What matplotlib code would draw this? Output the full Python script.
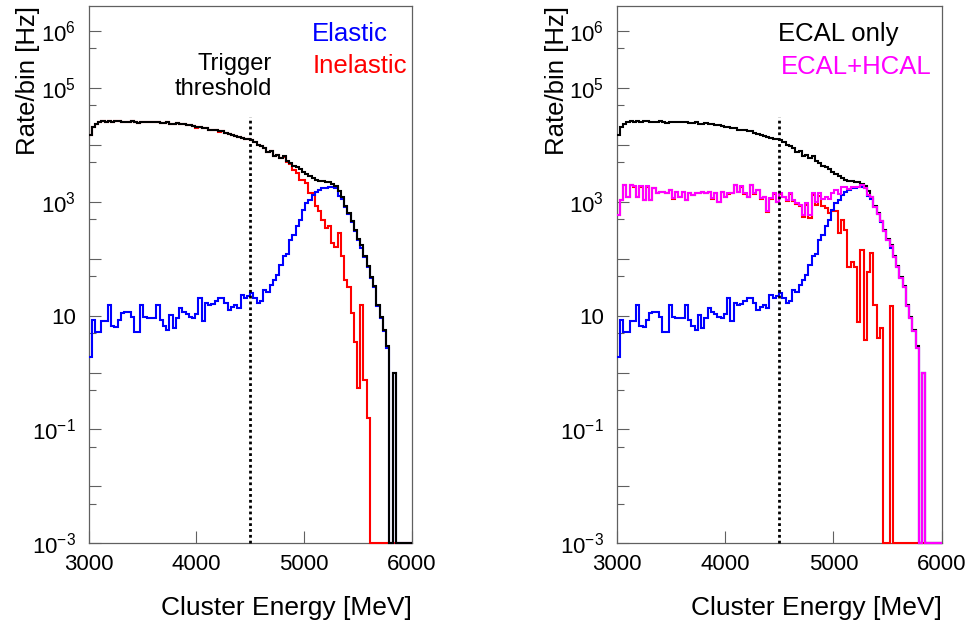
import numpy as np
import matplotlib
matplotlib.use("Agg")
import matplotlib.pyplot as plt
from matplotlib.ticker import FixedLocator, FixedFormatter, NullFormatter

plt.rcParams['font.family'] = ['Liberation Sans', 'DejaVu Sans']
plt.rcParams['mathtext.fontset'] = 'custom'
plt.rcParams['mathtext.rm'] = 'Liberation Sans'
plt.rcParams['mathtext.it'] = 'Liberation Sans:italic'
plt.rcParams['mathtext.bf'] = 'Liberation Sans:bold'

# ---------------- data (rates per 30 MeV bin, Hz) ----------------
E_MIN, E_MAX, BIN_WIDTH = 3000, 6000, 30
THRESHOLD_E = 4500
THRESHOLD_LINE_TOP = 3.1e4

x_ticks = [3000, 4000, 5000, 6000]
x_tick_labels = ["3000", "4000", "5000", "6000"]
y_major = [1e-3, 1e-2, 1e-1, 1, 10, 100, 1e3, 1e4, 1e5, 1e6]
y_major_labels = [r"$10^{-3}$", "", r"$10^{-1}$", "", "10", "", r"$10^{3}$", "", r"$10^{5}$", r"$10^{6}$"]
y_minor = [5e-3, 5e-2, 5e-1, 5, 50, 500, 5e3, 5e4, 5e5]

ecal_only = [
    15000, 20400, 23400, 25100, 26300, 25700, 26300, 25700, 26300, 26300,
    25100, 25700, 25700, 26300, 25100, 24500, 25100, 25100, 25700, 25100,
    25700, 25100, 24000, 24500, 25100, 23400, 23400, 24000, 22900, 22900,
    22400, 22400, 21400, 20400, 20900, 19500, 20000, 18600, 18600, 18200,
    17400, 17400, 16200, 15800, 14800, 14500, 13500, 13200, 12900, 12600,
    12000, 11200, 10000, 9550, 8910, 7410, 7760, 6460, 6760, 5890,
    6310, 5130, 4790, 4270, 4070, 3720, 3390, 3020, 2820, 2630,
    2450, 2340, 2290, 2190, 2200, 2040, 1910, 1540, 1210, 851,
    631, 468, 324, 224, 172, 110, 74, 48, 33, 15.5,
    9.5, 5.6, 2.9, 0, 1.0, 0, 0, 0, 0, 0]

elastic = [
    1.9, 8.3, 5.2, 5.2, 7.9, 7.9, 15.5, 6.5, 6.2, 8.3,
    11.0, 11.7, 11.7, 9.5, 5.2, 5.2, 15.5, 9.5, 8.9, 8.9,
    8.9, 15.5, 8.3, 6.5, 5.6, 10.2, 6.0, 8.9, 13.5, 11.7,
    10.5, 9.3, 8.9, 10.5, 20.4, 7.9, 16.6, 15.1, 15.8, 17.8,
    20.4, 20.4, 16.6, 12.6, 14.1, 15.5, 13.5, 22.9, 20.4, 22.4,
    24.5, 20.0, 16.6, 17.8, 28.2, 26.3, 34.7, 42.7, 51.3, 77.6,
    110, 123, 214, 263, 372, 479, 724, 955, 1070, 1320,
    1510, 1620, 1740, 1780, 1820, 1820, 1740, 1250, 1100, 794,
    603, 447, 309, 214, 155, 105, 71, 46, 32, 14.8,
    9.1, 5.4, 2.75, 0, 1.0, 0, 0, 0, 0, 0]

inelastic = [
    15000, 20400, 23400, 25100, 26300, 25700, 26300, 25700, 26300, 26300,
    25100, 25700, 25700, 26300, 25100, 24500, 25100, 25100, 25700, 25100,
    25700, 25100, 24000, 24500, 25100, 23400, 23400, 24000, 22900, 22900,
    22400, 22400, 21400, 20000, 20900, 19500, 20000, 18600, 18600, 18200,
    17000, 17400, 16200, 15800, 14800, 14500, 13500, 13200, 12900, 12600,
    12000, 11200, 10000, 9550, 8910, 7410, 7760, 6460, 6760, 5890,
    6200, 5010, 4650, 3630, 3160, 2400, 2400, 2140, 1410, 1410,
    832, 676, 479, 347, 380, 186, 162, 288, 110, 41.7,
    32.4, 11.0, 3.47, 0.525, 15.5, 0.74, 0.158, 0, 0, 0,
    0, 0, 0, 0, 0, 0, 0, 0, 0, 0]

ecal_hcal = [
    589, 1070, 2000, 1230, 2000, 1860, 1230, 1860, 1070, 1860,
    1070, 1740, 1410, 1510, 1510, 1410, 1620, 1150, 1510, 1230,
    1510, 1070, 1410, 1320, 1410, 1410, 1510, 1410, 1510, 1150,
    1410, 1000, 1510, 1230, 1410, 1410, 2000, 1510, 1860, 1410,
    1230, 2000, 1410, 1620, 1150, 1230, 676, 1150, 1410, 1000,
    1410, 1230, 1070, 1410, 1070, 933, 891, 589, 933, 589,
    1410, 1000, 1410, 1100, 1230, 1110, 1400, 1630, 1350, 1800,
    1830, 1690, 1830, 1850, 1830, 2000, 1745, 1310, 1200, 810,
    607, 453, 309, 214, 170, 105, 71, 46, 32, 14.8,
    9.1, 5.4, 2.75, 0, 1.0, 0, 0, 0, 0, 0]

inelastic_hcal = [
    580, 1060, 1990, 1220, 1990, 1850, 1220, 1850, 1060, 1850,
    1060, 1730, 1400, 1500, 1500, 1400, 1600, 1140, 1500, 1220,
    1500, 1060, 1400, 1310, 1400, 1400, 1500, 1400, 1500, 1140,
    1400, 990, 1500, 1220, 1390, 1400, 1980, 1490, 1840, 1390,
    1210, 1980, 1390, 1600, 1140, 1210, 660, 1130, 1390, 980,
    1380, 1210, 1050, 1390, 1040, 900, 850, 540, 880, 510,
    1300, 877, 1260, 832, 776, 631, 676, 676, 282, 479,
    324, 72, 89, 72, 7.8, 141, 3.7, 59, 126, 15.5,
    4.0, 6.0, 0, 0, 14.5, 0, 0, 0, 0, 0,
    0, 0, 0, 0, 0, 0, 0, 0, 0, 0]

# ---------------- layout ----------------
W, H = 966, 622
YMIN, YMAX = 1e-3, 2.75e6
FRAME_COLOR = '#606060'

edges = np.arange(E_MIN, E_MAX + BIN_WIDTH, BIN_WIDTH)

fig = plt.figure(figsize=(W / 100, H / 100), dpi=100)
fig.patch.set_facecolor('white')


def fx(x):
    return x / W


def fy(y):
    return 1 - y / H


ax_top, ax_bot = 6.0, 543.3
axL = fig.add_axes([fx(88.5), fy(ax_bot), 323.5 / W, (ax_bot - ax_top) / H])
axR = fig.add_axes([fx(616.7), fy(ax_bot), 325.0 / W, (ax_bot - ax_top) / H])


def style(ax):
    ax.set_yscale('log')
    ax.set_xlim(E_MIN, E_MAX)
    ax.set_ylim(YMIN, YMAX)
    ax.xaxis.set_major_locator(FixedLocator(x_ticks))
    ax.xaxis.set_major_formatter(FixedFormatter(x_tick_labels))
    ax.xaxis.set_minor_locator(FixedLocator([]))
    ax.yaxis.set_major_locator(FixedLocator(y_major))
    ax.yaxis.set_major_formatter(FixedFormatter(y_major_labels))
    ax.yaxis.set_minor_locator(FixedLocator(y_minor))
    ax.yaxis.set_minor_formatter(NullFormatter())
    ax.tick_params(axis='both', which='both', direction='in', top=False, right=False,
                   color=FRAME_COLOR, labelcolor='black', width=0.8)
    ax.tick_params(axis='both', which='major', length=8.6, labelsize=16)
    ax.tick_params(axis='y', which='minor', length=5)
    ax.tick_params(axis='x', which='major', pad=8)
    ax.tick_params(axis='y', which='major', pad=9)
    for s in ax.spines.values():
        s.set_color(FRAME_COLOR)
        s.set_linewidth(0.9)


def hist(ax, vals, color, z):
    v = np.asarray(vals, dtype=float)
    v = np.where(v > 0, v, YMIN)
    ax.stairs(v, edges, baseline=None, color=color, lw=1.5, zorder=z, clip_on=False)


def threshold(ax):
    ax.plot([THRESHOLD_E, THRESHOLD_E], [YMIN, THRESHOLD_LINE_TOP], color='black',
            lw=2.0, linestyle=(0, (1, 1.1)), zorder=10, clip_on=False)


style(axL)
style(axR)

# left panel
hist(axL, inelastic, '#ff0000', 3)
hist(axL, elastic, '#0000ff', 4)
hist(axL, ecal_only, '#000000', 5)
threshold(axL)

# right panel
hist(axR, inelastic_hcal, '#ff0000', 3)
hist(axR, elastic, '#0000ff', 4)
hist(axR, ecal_only, '#000000', 5)
hist(axR, ecal_hcal, '#ff00ff', 6)
threshold(axR)

# texts
fig.text(fx(312), fy(41), 'Elastic', color='#0000ff', fontsize=18.5, ha='left', va='baseline')
fig.text(fx(313), fy(73), 'Inelastic', color='#ff0000', fontsize=18.5, ha='left', va='baseline')
fig.text(fx(271.5), fy(70), 'Trigger', color='black', fontsize=17, ha='right', va='baseline')
fig.text(fx(272), fy(95), 'threshold', color='black', fontsize=17, ha='right', va='baseline')
fig.text(fx(778), fy(41), 'ECAL only', color='black', fontsize=18.5, ha='left', va='baseline')
fig.text(fx(781), fy(74), 'ECAL+HCAL', color='#ff00ff', fontsize=18.5, ha='left', va='baseline')

for left, right in [(88.5, 412.0), (616.7, 941.7)]:
    fig.text(fx(right), fy(615), 'Cluster Energy [MeV]', fontsize=19, ha='right', va='baseline')
    fig.text(fx(left - 60), fy(6), 'Rate/bin [Hz]', fontsize=18.5, rotation=90,
             ha='center', va='top')

fig.savefig('out.png', dpi=100)
